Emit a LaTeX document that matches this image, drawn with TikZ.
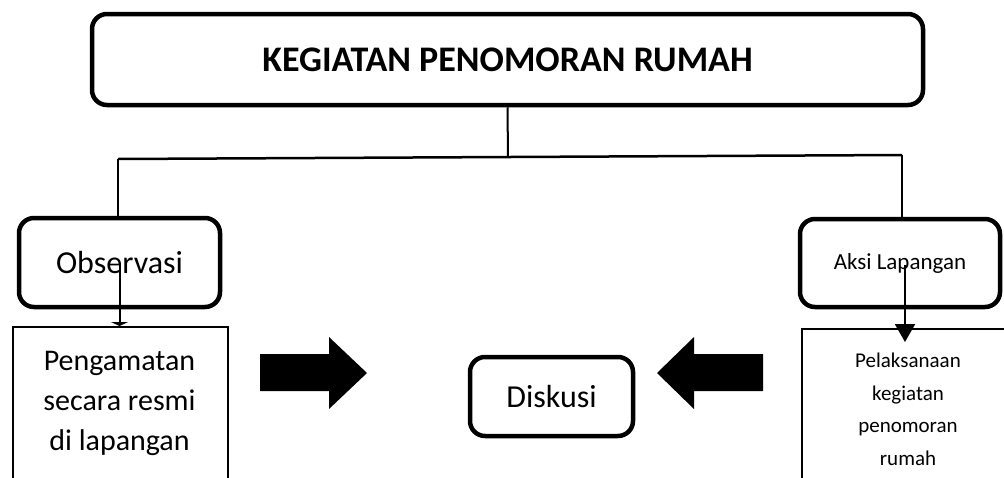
\documentclass[tikz,border=0pt]{standalone}
\usepackage{fontspec}
\setmainfont{Carlito}
\usepackage{tikz}
\usetikzlibrary{arrows.meta}

\tikzset{
  roundbox/.style={draw, line width=4.5pt, rounded corners=15pt, inner sep=0pt},
  plainbox/.style={draw, line width=1.8pt, inner sep=0pt},
  blockarrow/.style={fill=black, draw=none}
}

\begin{document}
\begin{tikzpicture}[x=1pt,y=1pt,yscale=-1,xscale=1]
\useasboundingbox (0,0) rectangle (1004,477);
% Rounded Rect
\node [roundbox, minimum width=831, minimum height=91, font=\fontsize{36}{40}\selectfont\bfseries] (top) at (507.5,59.5) {KEGIATAN PENOMORAN RUMAH};
% Rounded Rect
\node [roundbox, minimum width=201, minimum height=89, font=\fontsize{32}{36}\selectfont] (obs) at (119.5,262.5) {Observasi};
% Rounded Rect
\node [roundbox, minimum width=200, minimum height=88, font=\fontsize{23}{26}\selectfont] (aksi) at (900,263) {Aksi Lapangan};
% Rounded Rect
\node [roundbox, minimum width=163, minimum height=79, font=\fontsize{32}{36}\selectfont] (disk) at (551.5,396.5) {Diskusi};
% Rect
\node [plainbox, minimum width=215, minimum height=180, anchor=north west] (peng) at (12,326) {};
\node [plainbox, minimum width=215, minimum height=180, anchor=north west] (pel) at (801,328) {};
% Text Node
\node [anchor=north, align=center, inner sep=0pt, font=\fontsize{30}{40}\selectfont] (pengtext) at (119.5,351) {Pengamatan\\secara resmi\\di lapangan};
% Text Node
\node [anchor=north, align=center, inner sep=0pt, font=\fontsize{21}{32.5}\selectfont] (peltext) at (908,353) {Pelaksanaan\\kegiatan\\penomoran\\rumah};
% Straight Lines
\coordinate (jl) at (118,159);
\coordinate (jr) at (902,155);
\coordinate (jm) at (508,157);
\draw [line width=2pt] (top.south) -- (jm);
\draw [line width=2.5pt] (jl) -- (jr);
\draw [line width=2pt] (jl) -- (jl |- obs.north);
\draw [line width=2pt] (jr) -- (jr |- aksi.north);
% Arrows
\draw [line width=2pt, -{Triangle[width=17pt,length=4pt]}] (obs.center) -- (obs.center |- peng.north);
\draw [line width=2pt, shorten >=-14pt, -{Triangle[width=20pt,length=18pt]}] (905,265) -- (905,328);
% Block Arrows
\fill [blockarrow] (260,354) -- (329,354) -- (329,337) -- (367,373) -- (329,409) -- (329,391) -- (260,391) -- cycle;
\fill [blockarrow] (763,354) -- (694,354) -- (694,337) -- (657,373) -- (694,409) -- (694,391) -- (763,391) -- cycle;
\end{tikzpicture}
\end{document}
